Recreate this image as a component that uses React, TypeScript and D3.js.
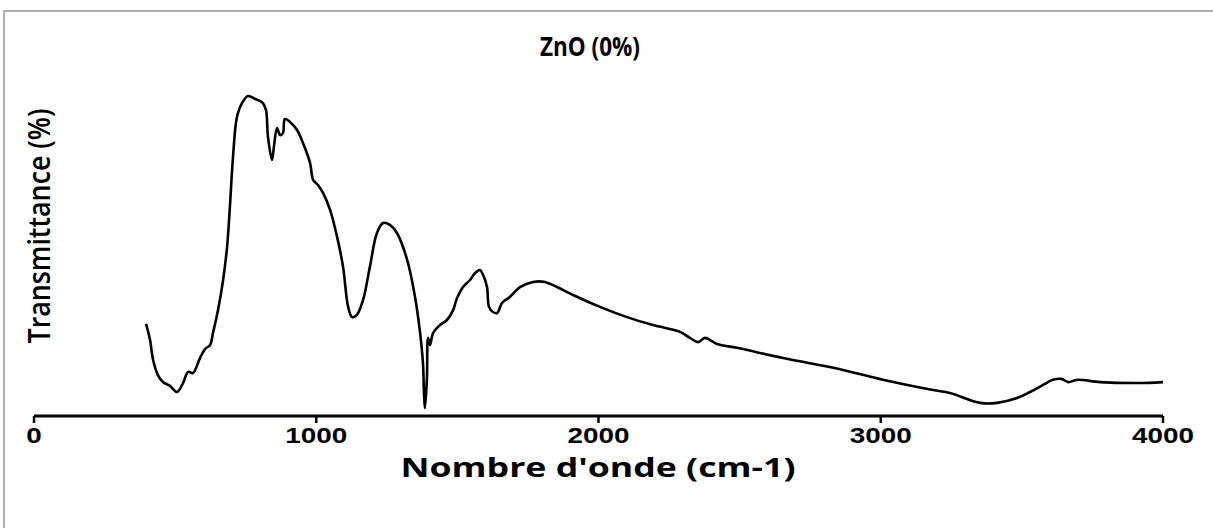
import React from "react";
import * as d3 from "d3";

const title = "ZnO (0%)";
const xTitle = "Nombre d'onde (cm-1)";
const yTitle = "Transmittance (%)";
const xTicks = [0, 1000, 2000, 3000, 4000];

const wavenumber = [
  397, 411, 422, 439, 457, 482, 507, 528, 546, 563, 588, 606, 624, 634, 652, 670, 684, 694, 705, 719,
  737, 758, 783, 811, 822, 829, 843, 850, 861, 872, 882, 889, 907, 932, 953, 978, 989, 1006, 1024, 1049,
  1074, 1095, 1113, 1127, 1144, 1166, 1190, 1215, 1237, 1261, 1286, 1322, 1350, 1368, 1378, 1382, 1385,
  1392, 1396, 1403, 1414, 1438, 1463, 1485, 1499, 1520, 1545, 1563, 1580, 1591, 1605, 1612, 1626, 1641,
  1658, 1686, 1722, 1768, 1810, 1853, 1910, 2005, 2101, 2193, 2289, 2324, 2353, 2377, 2420, 2491, 2654,
  2866, 3008, 3185, 3245, 3352, 3412, 3483, 3529, 3575, 3610, 3640, 3665, 3695, 3777, 3908, 4000,
];
const transmittance = [
  28.8, 23.8, 17.5, 12.8, 10.6, 9.4, 7.5, 10.3, 13.8, 13.4, 18.1, 20.9, 22.2, 25.9, 33.1, 42.5, 52.8, 65.3, 80.9, 93.4,
  97.8, 100, 99.1, 97.8, 95.6, 87.2, 80, 84.1, 90, 87.8, 88.4, 92.8, 91.9, 89.4, 85.3, 79.1, 73.8, 72.2, 69.7, 64.4,
  55.9, 46.6, 34.1, 30.9, 31.6, 36.3, 46.6, 57.2, 60.3, 59.7, 57.2, 48.8, 37.2, 25.9, 16.6, 6.6, 2.5,
  11.3, 24.4, 22.2, 25.9, 28.4, 30, 33.1, 36.9, 40.3, 42.5, 44.7, 45.6, 44.1, 40.3, 34.1, 32.5, 32.2,
  35.3, 37.2, 40.3, 41.9, 41.9, 40.3, 37.8, 34.1, 30.9, 28.4, 26.3, 24.4, 23.1, 24.4, 22.5, 21.3, 18.1,
  14.4, 11.3, 8.1, 7.2, 4.1, 4.1, 5.6, 7.5, 9.7, 11.3, 11.6, 10.6, 11.3, 10.6, 10.3, 10.6,
];

const W = 1213;
const H = 528;

export default function App() {
  const x = d3.scaleLinear().domain([0, 4000]).range([34, 1163]);
  const y = d3.scaleLinear().domain([0, 100]).range([416, 96]);
  const pts: [number, number][] = wavenumber.map((w, i) => [w, transmittance[i]]);
  const line = d3
    .line<[number, number]>()
    .x((d) => x(d[0]))
    .y((d) => y(d[1]))
    .curve(d3.curveCatmullRom.alpha(0.5));
  const axisY = 416;
  return (
    <svg width={W} height={H} style={{ position: "absolute", left: 0, top: 0, background: "#fff" }}>
      <rect x={0} y={0} width={W} height={H} fill="#fff" />
      <path d={`M4,${H} L4,11 L${W},11`} fill="none" stroke="#b0b0b0" strokeWidth={2} />
      <text
        x={590}
        y={56}
        textAnchor="middle"
        fontFamily="Open Sans, sans-serif"
        fontWeight="bold"
        fontSize={26}
        textLength={100}
        lengthAdjust="spacingAndGlyphs"
        fill="#000"
      >
        {title}
      </text>
      <path d={line(pts) || ""} fill="none" stroke="#000" strokeWidth={2.6} strokeLinejoin="round" />
      <line x1={x(0)} x2={x(4000)} y1={axisY} y2={axisY} stroke="#000" strokeWidth={3} />
      {xTicks.map((t) => (
        <g key={t}>
          <line x1={x(t)} x2={x(t)} y1={axisY} y2={axisY + 7} stroke="#000" strokeWidth={2.5} />
          <text
            x={x(t)}
            y={axisY + 27}
            textAnchor="middle"
            fontFamily="Liberation Sans, Arial, sans-serif"
            fontWeight="bold"
            fontSize={22}
            textLength={15.5 * String(t).length}
            lengthAdjust="spacingAndGlyphs"
            fill="#000"
          >
            {t}
          </text>
        </g>
      ))}
      <text
        x={598}
        y={477}
        textAnchor="middle"
        fontFamily="Open Sans, sans-serif"
        fontWeight="bold"
        fontSize={27}
        textLength={395}
        lengthAdjust="spacingAndGlyphs"
        fill="#000"
      >
        {xTitle}
      </text>
      <text
        transform={`translate(50,226) rotate(-90)`}
        textAnchor="middle"
        fontFamily="Open Sans, sans-serif"
        fontWeight="600"
        fontSize={30}
        textLength={235}
        lengthAdjust="spacingAndGlyphs"
        fill="#000"
      >
        {yTitle}
      </text>
    </svg>
  );
}
